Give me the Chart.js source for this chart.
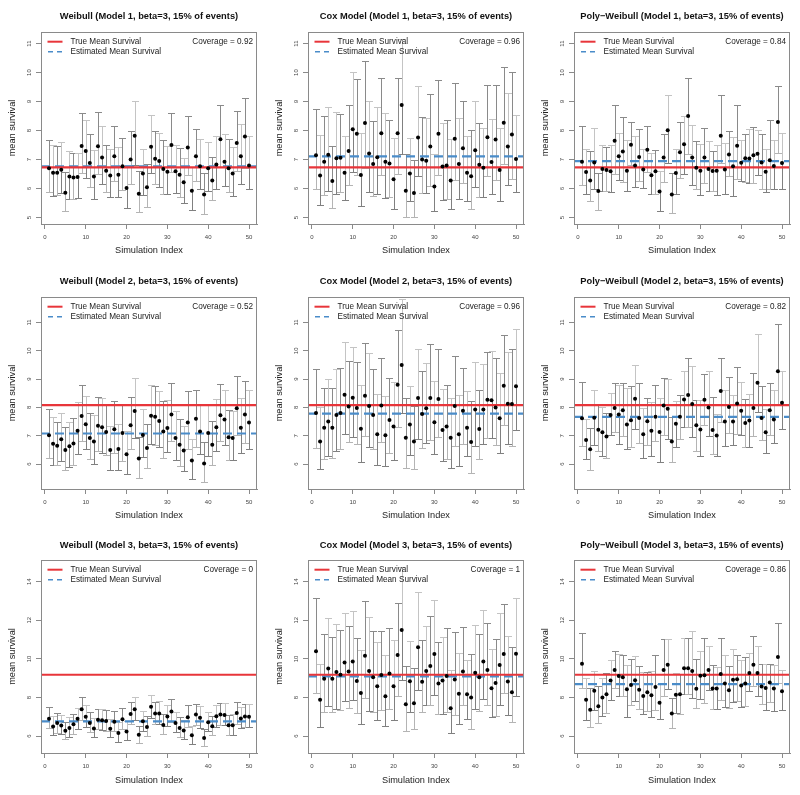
<!DOCTYPE html>
<html><head><meta charset="utf-8">
<script src="https://cdn.jsdelivr.net/npm/chart.js@4/dist/chart.umd.min.js"></script>
<style>html,body{margin:0;padding:0;background:#fff;width:800px;height:795px;overflow:hidden}canvas{position:absolute}</style>
</head><body>
<script>
// ---------------- DATA ----------------
const simIndex = Array.from({length:50},(_, i)=>i+1);
const xTicks = [0,10,20,30,40,50];
const yTicksRow1 = [5,6,7,8,9,10,11];
const yTicksRow2 = [6,7,8,9,10,11];
const yTicksRow3 = [6,8,10,12,14];
const titles = [
 'Weibull (Model 1, beta=3, 15% of events)','Cox Model (Model 1, beta=3, 15% of events)','Poly\u2212Weibull (Model 1, beta=3, 15% of events)',
 'Weibull (Model 2, beta=3, 15% of events)','Cox Model (Model 2, beta=3, 15% of events)','Poly\u2212Weibull (Model 2, beta=3, 15% of events)',
 'Weibull (Model 3, beta=3, 15% of events)','Cox Model (Model 3, beta=3, 15% of events)','Poly\u2212Weibull (Model 3, beta=3, 15% of events)'];
const coverage = ['0.92','0.96','0.84','0.52','0.96','0.82','0','1','0.86'];
const trueMean = [6.73,6.73,6.73,8.08,8.08,8.08,9.18,9.18,9.18];
const estMean  = [6.77,7.11,6.95,7.08,7.78,7.67,6.77,9.10,8.70];

const wb1Mean=[6.70,6.55,6.55,6.65,5.86,6.42,6.38,6.40,7.47,7.30,6.88,6.42,7.46,7.07,6.62,6.45,7.12,6.48,6.77,6.02,7.00,7.82,5.82,6.52,6.05,7.44,7.03,6.95,6.68,6.58,7.50,6.60,6.48,6.22,7.42,5.93,7.12,6.77,5.80,6.70,6.28,6.83,7.70,6.93,6.70,6.52,7.57,7.12,7.80,6.80];
const wb1Lo=[5.90,5.75,5.78,5.85,5.22,5.65,5.65,5.67,6.55,6.38,6.05,5.65,6.50,6.15,5.87,5.70,6.25,5.70,5.95,5.32,6.15,6.82,5.18,5.77,5.38,6.55,6.17,6.07,5.83,5.80,6.58,5.85,5.72,5.50,6.48,5.25,6.27,5.97,5.13,5.93,5.60,6.00,6.75,6.10,5.90,5.75,6.62,6.17,6.72,5.98];
const wb1Hi=[7.67,7.50,7.47,7.60,6.58,7.30,7.22,7.22,8.60,8.38,7.87,7.32,8.63,8.15,7.52,7.35,8.15,7.42,7.73,6.82,8.00,9.03,6.60,7.38,6.85,8.53,8.00,7.92,7.68,7.47,8.62,7.52,7.40,7.07,8.52,6.75,8.06,7.70,6.55,7.62,7.10,7.80,8.90,7.90,7.70,7.42,8.67,8.22,9.13,7.80];

const cox1Mean=[7.15,6.45,6.93,7.17,6.26,7.05,7.06,6.55,7.30,8.05,7.89,6.47,8.26,7.21,6.85,7.08,7.91,6.93,6.87,6.32,7.91,8.88,5.93,6.52,5.85,7.76,7.00,6.96,7.45,6.07,7.89,6.76,6.80,6.28,7.72,6.85,7.39,6.55,6.43,7.32,6.82,6.72,7.77,6.92,7.69,6.64,8.27,7.45,7.87,7.02];
const cox1Lo=[5.98,5.42,5.78,5.92,5.32,5.82,5.88,5.62,6.13,6.58,6.48,5.40,6.70,5.90,5.75,5.80,6.48,5.68,5.72,5.30,6.50,7.18,5.02,5.58,5.02,6.43,5.85,5.85,6.10,5.23,6.48,5.62,5.65,5.28,6.30,5.63,6.18,5.58,5.28,6.05,5.72,5.72,6.43,5.80,6.30,5.58,6.85,6.12,6.32,5.90];
const cox1Hi=[8.75,7.85,8.50,8.82,7.47,8.65,8.58,7.80,8.90,10.03,9.78,7.93,10.40,9.02,8.32,8.83,9.80,8.62,8.35,7.75,9.80,11.15,7.20,7.73,6.98,9.55,8.48,8.42,9.27,7.20,9.75,8.27,8.35,7.70,9.65,8.42,9.03,7.83,8.02,9.03,8.25,8.08,9.57,8.40,9.58,8.08,10.18,9.28,10.02,8.53];

const pw1Mean=[6.93,6.57,6.28,6.90,5.92,6.68,6.64,6.60,7.65,7.12,7.28,6.62,7.51,6.80,7.09,6.66,7.34,6.46,6.60,5.90,7.07,8.01,5.80,6.54,7.25,7.53,8.50,7.07,6.72,6.62,7.07,6.68,6.61,6.62,7.82,6.66,7.18,6.77,7.48,6.89,7.05,7.04,7.15,7.20,6.90,6.58,6.98,6.78,8.30,6.88];
const pw1Lo=[6.12,5.82,5.57,5.98,5.27,5.92,5.93,5.90,6.50,6.28,6.22,5.93,6.82,6.05,6.27,6.02,6.57,5.82,5.83,5.23,6.23,6.90,5.17,5.83,6.38,6.50,7.18,6.12,5.97,5.78,6.20,5.93,5.92,5.78,6.88,5.83,6.43,5.75,6.33,6.25,6.22,6.18,6.20,6.47,6.00,5.90,5.97,5.98,7.22,5.97];
const pw1Hi=[8.15,7.38,7.28,8.08,6.55,7.52,7.45,7.50,8.88,7.93,8.48,7.67,8.31,7.80,8.07,7.38,8.15,7.22,7.33,6.60,7.87,9.23,6.53,7.35,8.30,8.52,9.80,8.18,7.63,7.55,8.08,7.63,7.28,7.50,9.22,7.57,7.98,7.77,8.87,7.68,7.90,8.07,8.12,8.02,7.90,7.35,8.38,7.67,9.55,7.93];

const wb2Mean=[7.02,6.72,6.65,6.88,6.50,6.63,6.73,7.18,7.70,7.41,6.92,6.80,7.35,7.30,7.13,6.50,7.23,6.53,7.10,6.35,7.37,7.87,6.20,7.03,6.57,7.71,7.67,7.52,7.15,7.27,7.75,6.92,6.68,6.48,7.47,6.13,7.60,7.15,6.02,7.10,6.68,7.30,7.72,7.57,6.95,6.92,7.97,7.28,7.75,7.47];
const wb2Lo=[6.23,5.95,5.95,6.10,5.80,5.90,5.97,6.35,6.80,6.55,6.17,6.00,6.45,6.40,6.32,5.78,6.40,5.78,6.10,5.65,6.52,6.92,5.50,6.25,5.85,6.72,6.67,6.62,6.22,6.42,6.82,6.13,5.92,5.75,6.55,5.47,6.62,6.35,5.35,6.28,5.97,6.45,6.80,6.67,6.15,6.15,7.02,6.38,6.73,6.53];
const wb2Hi=[7.93,7.65,7.50,7.80,7.30,7.50,7.62,8.18,8.80,8.42,7.80,7.75,8.38,8.35,8.07,7.33,8.22,7.40,8.07,7.18,8.37,9.03,6.97,7.95,7.42,8.78,8.75,8.58,8.22,8.25,8.85,7.87,7.58,7.35,8.57,6.88,8.63,8.07,6.78,8.07,7.52,8.30,8.82,8.62,7.90,7.87,9.12,8.35,8.95,8.60];

const cox2Mean=[7.80,6.80,7.28,7.50,7.28,7.73,7.80,8.45,8.03,8.34,7.98,7.25,8.41,8.05,7.73,7.05,8.07,7.02,7.56,7.33,8.80,9.50,6.93,7.40,6.80,8.33,7.77,7.97,8.33,7.48,8.30,7.20,7.33,6.93,8.05,7.05,7.88,7.28,6.78,7.93,7.24,7.93,8.27,8.25,8.00,7.62,8.77,8.13,8.12,8.75];
const cox2Lo=[6.58,5.82,6.18,6.30,6.20,6.45,6.55,7.05,6.78,6.97,6.70,6.08,6.98,6.60,6.52,5.95,6.78,5.93,6.40,6.13,7.30,7.82,5.87,6.33,5.83,6.88,6.58,6.75,6.85,6.35,6.95,6.12,6.17,5.87,6.65,5.93,6.70,6.28,5.68,6.63,6.17,6.70,6.93,6.92,6.67,6.38,7.37,6.72,6.65,7.20];
const cox2Hi=[9.35,8.00,8.70,9.02,8.67,9.35,9.38,10.30,9.63,10.13,9.62,8.78,10.27,9.93,9.35,8.48,9.75,8.42,9.03,8.90,10.73,11.83,8.33,8.75,8.05,10.08,9.30,9.58,10.25,8.95,10.08,8.65,8.80,8.35,9.82,8.43,9.38,8.57,8.22,9.60,8.60,9.55,9.97,10.00,9.75,9.23,10.57,9.97,10.08,10.77];

const pw2Mean=[7.62,6.85,6.52,7.64,7.21,7.12,6.97,7.73,7.98,7.75,7.90,7.40,7.55,8.31,7.63,7.05,7.51,7.18,7.67,7.13,8.07,7.95,6.80,7.42,7.67,8.28,8.44,8.12,7.37,7.22,8.27,8.00,7.20,7.01,8.58,7.50,8.02,7.50,8.14,7.88,7.45,7.54,7.98,8.87,7.63,7.12,7.90,7.57,9.28,8.17];
const pw2Lo=[6.65,6.17,5.80,6.67,6.45,6.27,6.20,7.03,7.13,6.72,7.00,6.55,6.60,7.25,6.73,6.22,6.67,6.30,6.80,6.07,7.03,6.88,6.07,6.62,6.90,7.32,7.30,6.95,6.45,6.30,7.37,7.00,6.35,6.27,7.48,6.65,7.08,6.67,7.05,7.03,6.62,6.62,7.00,7.83,6.85,6.38,7.02,6.73,8.07,7.25];
const pw2Hi=[8.90,7.58,7.28,8.62,8.07,8.03,7.82,8.50,8.85,8.80,8.87,8.70,8.75,9.50,8.87,7.97,8.35,8.18,8.80,8.35,9.05,9.00,7.65,8.23,8.45,9.27,9.75,9.45,8.28,8.25,9.18,9.27,8.38,7.78,9.75,8.60,9.08,8.43,9.42,8.90,8.30,8.48,9.22,10.60,8.75,7.95,8.85,8.63,10.93,9.30];

const wb3Mean=[6.90,6.50,6.68,6.55,6.28,6.42,6.62,6.90,7.40,7.00,6.68,6.40,6.85,6.82,6.78,6.38,6.75,6.17,6.88,6.24,7.15,7.40,6.07,6.77,6.47,7.52,7.17,7.17,6.58,7.02,7.28,6.68,6.42,6.30,6.98,6.05,7.12,6.95,5.90,6.72,6.52,7.03,7.12,7.10,6.57,6.57,7.20,6.92,7.02,7.00];
const wb3Lo=[6.40,6.05,6.18,6.10,5.85,5.95,6.12,6.38,6.85,6.50,6.22,5.97,6.35,6.30,6.28,5.97,6.27,5.72,6.35,5.80,6.62,6.85,5.65,6.27,6.00,6.95,6.65,6.62,6.10,6.52,6.73,6.20,5.97,5.85,6.47,5.62,6.60,6.42,5.48,6.25,6.07,6.50,6.57,6.57,6.08,6.08,6.65,6.40,6.47,6.48];
const wb3Hi=[7.52,7.05,7.22,7.10,6.72,6.97,7.17,7.48,8.05,7.60,7.25,6.95,7.40,7.42,7.33,6.90,7.30,6.75,7.48,6.80,7.75,8.05,6.55,7.32,7.02,8.15,7.77,7.82,7.15,7.62,7.90,7.25,6.98,6.82,7.60,6.55,7.65,7.55,6.38,7.25,7.07,7.62,7.70,7.72,7.10,7.15,7.78,7.52,7.68,7.65];

const cox3Mean=[10.40,7.88,8.97,9.50,8.97,9.32,9.18,9.82,9.35,9.87,8.86,8.23,10.17,9.38,9.05,8.58,9.17,8.07,9.25,8.58,10.20,11.50,7.65,8.85,7.70,10.60,8.82,9.37,9.63,10.25,8.73,8.88,9.12,7.45,8.93,8.20,9.35,8.17,8.00,9.28,9.05,9.87,9.43,8.48,8.75,9.68,10.25,8.83,8.28,10.27];
const cox3Lo=[8.22,6.48,7.23,7.55,7.25,7.43,7.38,7.82,7.47,7.85,7.20,6.63,7.98,7.30,7.25,6.85,7.38,6.52,7.43,6.82,8.08,8.93,6.28,7.27,6.38,8.40,7.25,7.63,7.60,8.12,7.13,7.15,7.27,6.15,7.08,6.62,7.62,6.87,6.35,7.40,7.28,7.90,7.60,6.97,7.05,7.60,8.23,7.08,6.72,8.10];
const cox3Hi=[13.15,9.73,11.27,12.10,11.15,11.80,11.50,12.38,11.70,12.48,11.07,10.47,12.98,12.15,11.47,10.90,11.47,10.20,11.62,11.00,12.90,14.75,9.65,10.95,9.55,13.48,11.00,11.72,12.23,13.05,10.88,11.15,11.62,9.42,11.37,10.32,11.67,9.92,10.27,11.73,11.30,12.55,11.87,10.52,11.05,12.37,12.82,11.18,10.63,13.13];

const pw3Mean=[9.75,7.88,7.37,8.35,7.55,8.00,8.17,8.88,9.43,9.12,9.05,8.43,8.65,8.90,8.40,8.08,8.28,8.12,8.55,7.73,9.42,9.70,7.18,8.15,8.17,9.52,9.52,9.37,8.45,9.13,9.15,9.43,8.47,8.47,9.22,8.73,8.38,8.92,8.95,8.62,8.73,9.27,9.70,9.27,8.57,8.50,8.78,8.47,10.10,8.33];
const pw3Lo=[8.47,6.82,6.50,7.38,6.67,7.03,7.18,7.85,8.48,8.07,8.08,6.98,7.60,7.80,7.43,7.13,7.30,6.98,7.35,6.90,8.08,8.45,6.40,7.18,7.15,8.20,8.20,7.98,7.45,7.93,7.72,8.38,7.43,7.43,7.85,7.50,7.48,7.78,7.82,7.50,7.57,8.32,8.58,8.10,7.65,7.38,7.75,7.30,8.75,7.35];
const pw3Hi=[11.33,9.03,8.50,9.35,8.62,9.03,9.27,9.95,10.42,10.27,10.18,9.70,9.98,10.17,9.62,9.30,9.30,9.40,10.20,8.68,11.02,11.05,7.98,9.28,9.23,11.10,11.10,11.45,9.97,10.42,11.10,10.65,9.70,9.57,11.08,10.22,9.62,10.53,10.18,9.92,10.08,10.33,11.17,10.68,9.72,9.72,9.72,9.70,11.85,9.43];

// ---------------- RENDERING ----------------
const FONT = '"Liberation Sans", Arial, Helvetica, sans-serif';
Chart.defaults.font.family = FONT;
Chart.defaults.animation = false;

const means = [wb1Mean,cox1Mean,pw1Mean,wb2Mean,cox2Mean,pw2Mean,wb3Mean,cox3Mean,pw3Mean];
const lows  = [wb1Lo,cox1Lo,pw1Lo,wb2Lo,cox2Lo,pw2Lo,wb3Lo,cox3Lo,pw3Lo];
const highs = [wb1Hi,cox1Hi,pw1Hi,wb2Hi,cox2Hi,pw2Hi,wb3Hi,cox3Hi,pw3Hi];
const rowYTicks = [yTicksRow1,yTicksRow2,yTicksRow3];
const rowYMin = [4.78,5.12,5.13];
const rowYMax = [11.40,11.90,15.12];
const rowTopPad = [32,32,30];
const rowXAxisH = [41,41,42];
const rowTitleY = [16,16,15];
const colLeft = [0,267,533];
const X_MIN = -0.96, X_MAX = 51.96;
const RED = '#e8353a', BLUE = '#4a8cc9';

for (let k=0;k<9;k++){
  const row = Math.floor(k/3), col = k%3;
  const cv = document.createElement('canvas');
  cv.width = 267; cv.height = 265;
  cv.style.left = colLeft[col]+'px'; cv.style.top = (row*265)+'px';
  document.body.appendChild(cv);
  const mean = means[k], lo = lows[k], hi = highs[k];

  const panelPlugin = {
    id:'panel'+k,
    beforeDatasetsDraw(chart){
      const xs=chart.scales.x, ys=chart.scales.y, ctx=chart.ctx, ca=chart.chartArea;
      ctx.save();
      ctx.beginPath(); ctx.rect(ca.left,ca.top,ca.right-ca.left,ca.bottom-ca.top); ctx.clip();
      ctx.lineWidth = 1;
      simIndex.forEach((idx,i)=>{
        const x = Math.round(xs.getPixelForValue(idx))+0.5;
        const ym = ys.getPixelForValue(mean[i]);
        const yl = Math.round(ys.getPixelForValue(lo[i]))+0.5;
        const yh = Math.round(ys.getPixelForValue(hi[i]))+0.5;
        const cUp = (i%2===0) ? '#8a8a8a' : '#c4c4c4';
        const cDn = (i%2===0) ? '#b4b4b4' : '#808080';
        ctx.strokeStyle = cUp;
        ctx.beginPath(); ctx.moveTo(x,ym); ctx.lineTo(x,yh); ctx.moveTo(x-3.5,yh); ctx.lineTo(x+3.5,yh); ctx.stroke();
        ctx.strokeStyle = cDn;
        ctx.beginPath(); ctx.moveTo(x,ym); ctx.lineTo(x,yl); ctx.moveTo(x-3.5,yl); ctx.lineTo(x+3.5,yl); ctx.stroke();
      });
      ctx.restore();
    },
    afterDraw(chart){
      const ctx=chart.ctx, ca=chart.chartArea;
      ctx.save();
      // box
      ctx.strokeStyle='#8a8a8a'; ctx.lineWidth=1;
      ctx.strokeRect(Math.round(ca.left)+0.5, Math.round(ca.top)+0.5, Math.round(ca.right-ca.left)-1, Math.round(ca.bottom-ca.top));
      // title
      ctx.fillStyle='#111'; ctx.font='bold 9.3px '+FONT; ctx.textAlign='center'; ctx.textBaseline='middle';
      ctx.fillText(titles[k], (ca.left+ca.right)/2, rowTitleY[row]);
      // legend
      const l1 = ca.top+9.7, l2 = ca.top+19.7;
      ctx.lineWidth=2; ctx.strokeStyle=RED; ctx.setLineDash([]);
      ctx.beginPath(); ctx.moveTo(ca.left+6.5,l1); ctx.lineTo(ca.left+21.5,l1); ctx.stroke();
      ctx.lineWidth=1.6; ctx.strokeStyle=BLUE; ctx.setLineDash([5,4]);
      ctx.beginPath(); ctx.moveTo(ca.left+7,l2); ctx.lineTo(ca.left+21.5,l2); ctx.stroke();
      ctx.setLineDash([]);
      ctx.fillStyle='#222'; ctx.font='8.2px '+FONT; ctx.textAlign='left';
      ctx.fillText('True Mean Survival', ca.left+29.5, l1);
      ctx.fillText('Estimated Mean Survival', ca.left+29.5, l2);
      ctx.textAlign='right';
      ctx.fillText('Coverage = '+coverage[k], ca.right-4, l1);
      ctx.restore();
    }
  };

  new Chart(cv, {
    type:'scatter',
    data:{datasets:[
      {label:'points', data: simIndex.map((x,i)=>({x, y:mean[i]})), pointRadius:2, pointHoverRadius:2, backgroundColor:'#000', borderWidth:0, pointBorderWidth:0},
      {type:'line', label:'True Mean Survival', data:[{x:X_MIN,y:trueMean[k]},{x:X_MAX,y:trueMean[k]}], borderColor:RED, borderWidth:2.2, pointRadius:0, fill:false},
      {type:'line', label:'Estimated Mean Survival', data:[{x:X_MIN,y:estMean[k]},{x:X_MAX,y:estMean[k]}], borderColor:BLUE, borderWidth:2.2, borderDash:[9,5], pointRadius:0, fill:false}
    ]},
    options:{
      responsive:false, devicePixelRatio:1, animation:false,
      layout:{padding:{top:rowTopPad[row], right:10, left:0, bottom:0}},
      plugins:{legend:{display:false}, tooltip:{enabled:false}, title:{display:false}},
      events:[],
      scales:{
        x:{type:'linear', min:X_MIN, max:X_MAX,
          afterBuildTicks:s=>{s.ticks = xTicks.map(v=>({value:v}));},
          afterFit:s=>{s.height = rowXAxisH[row];},
          ticks:{autoSkip:false, font:{size:6}, color:'#444', padding:5, maxRotation:0, minRotation:0},
          grid:{display:true, drawOnChartArea:false, drawTicks:true, tickLength:5, tickColor:'#8a8a8a', color:'#8a8a8a'},
          border:{display:true, color:'#8a8a8a'},
          title:{display:true, text:'Simulation Index', font:{size:9.2}, color:'#222', padding:{top:0,bottom:9}}
        },
        y:{type:'linear', min:rowYMin[row], max:rowYMax[row],
          afterBuildTicks:s=>{s.ticks = rowYTicks[row].map(v=>({value:v}));},
          afterFit:s=>{s.width = 41;},
          ticks:{autoSkip:false, font:{size:6}, color:'#444', padding:3.5, minRotation:90, maxRotation:90, crossAlign:'center'},
          grid:{display:true, drawOnChartArea:false, drawTicks:true, tickLength:5, tickColor:'#8a8a8a', color:'#8a8a8a'},
          border:{display:true, color:'#8a8a8a'},
          title:{display:true, text:'mean survival', font:{size:9.2}, color:'#222', padding:{top:7,bottom:0}}
        }
      }
    },
    plugins:[panelPlugin]
  });
}
</script>
</body></html>
